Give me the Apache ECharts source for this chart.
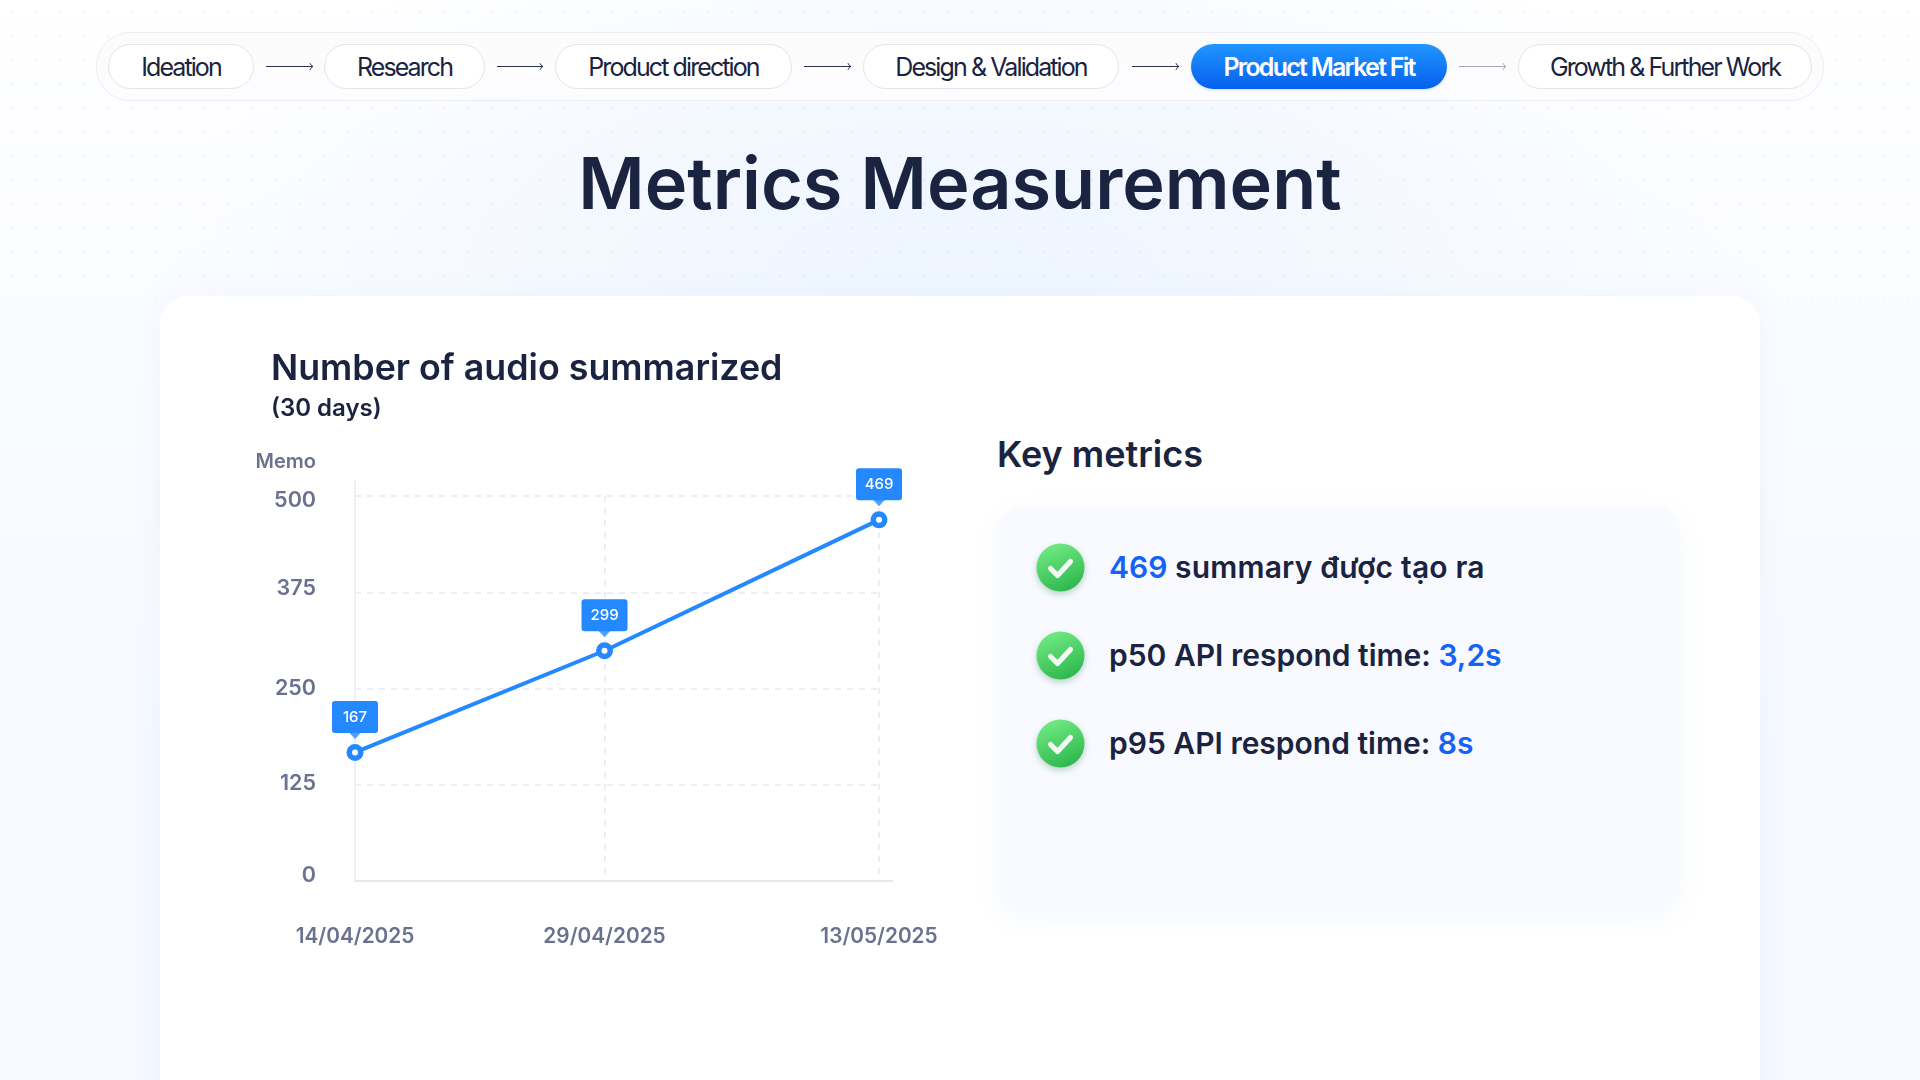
<!DOCTYPE html>
<html><head><meta charset="utf-8">
<script src="https://cdn.jsdelivr.net/npm/echarts@6/dist/echarts.min.js"></script>
<style>
html,body{margin:0;padding:0;width:1920px;height:1080px;overflow:hidden;font-family:Inter,sans-serif;color:#1a2340}
#bg{position:absolute;inset:0;background:radial-gradient(ellipse 820px 420px at 960px 300px,#edf5ff 0%,#f5f9ff 55%,rgba(255,255,255,0) 100%),linear-gradient(180deg,#ffffff 0%,#fbfcff 25%,#f6f9ff 70%,#f6f9ff 100%)}
#dots{position:absolute;left:0;top:0;width:1920px;height:300px;background-image:radial-gradient(circle,rgba(190,205,235,.24) 1.2px,transparent 1.6px);background-size:24px 24px}
#bar{position:absolute;left:96px;top:32px;width:1728px;height:69px;border:1px solid #eceef3;border-radius:34px;box-sizing:border-box;background:linear-gradient(#fbfbfc,#fdfdff)}
.pill{position:absolute;top:44px;height:45px;box-sizing:border-box;border:1px solid #e4e6ea;border-radius:23px;background:#fff;display:flex;align-items:center;justify-content:center;font-size:25px;letter-spacing:-1.9px;color:#1a2340;white-space:nowrap}
.pill.on{border:0;background:linear-gradient(#2196ff,#0560ee);color:#fff;font-weight:600;box-shadow:0 1px 3px rgba(0,90,230,.2);letter-spacing:-1.75px}
.arr{position:absolute;top:61px;height:11px}
h1{position:absolute;left:0;width:1920px;top:136px;margin:0;text-align:center;font-size:72px;font-weight:600;line-height:94px;letter-spacing:0;color:#1a2340}
#card{position:absolute;left:160px;top:296px;width:1600px;height:900px;background:#fff;border-radius:28px;box-shadow:0 4px 30px rgba(120,150,210,.08)}
#km{position:absolute;left:997px;top:430px;font-size:36px;font-weight:600;line-height:48px;color:#1a2340}
#panel{position:absolute;left:997px;top:507px;width:683px;height:405px;border-radius:26px;background:#f8faff;box-shadow:0 6px 24px rgba(120,150,210,.07)}
.row{position:absolute;left:1109px;height:48px;line-height:48px;font-size:30px;font-weight:600;color:#1a2340;white-space:nowrap}
.row b{font-weight:600;color:#1463f5}
.row i{font-style:normal;letter-spacing:.18px}
.ok{position:absolute;left:1036px;width:49px;height:49px}
#c{position:absolute;left:0;top:0;width:1920px;height:1080px}
</style></head><body>
<div id="bg"></div><div id="dots"></div>
<div id="bar"></div>
<div id="steps"></div>
<h1>Metrics Measurement</h1>
<div id="card"></div>
<div id="km">Key metrics</div>
<div id="panel"></div>
<div id="rows"></div>
<div id="c"></div>
<script>
// ---- chart data ----
var dateLabels = ['14/04/2025', '29/04/2025', '13/05/2025'];
var datePositions = [0, 10, 21];
var memoValues = [167, 299, 469];
var yTicks = [0, 125, 250, 375, 500];
// ---- page text ----
var stepNames = ['Ideation','Research','Product direction','Design & Validation','Product Market Fit','Growth & Further Work'];
var activeStep = 4;
var metricRows = [
  '<b>469</b><i> summary được tạo ra</i>',
  'p50 API respond time: <b>3,2s</b>',
  'p95 API respond time: <b>8s</b>'
];
// ---- page layout ----
var pillX = [[108,254],[324,485],[555,792],[863,1119],[1191,1447],[1518,1812]];
var arrowX = [[266,314],[497,544],[804,852],[1132,1180],[1459,1507]];
var rowY = [567,655,743];

var steps = document.getElementById('steps'), html = '';
stepNames.forEach(function(n,i){
  html += '<div class="pill'+(i===activeStep?' on':'')+'" style="left:'+pillX[i][0]+'px;width:'+(pillX[i][1]-pillX[i][0])+'px">'+n.replace('&','&amp;')+'</div>';
});
arrowX.forEach(function(a,i){
  var w=a[1]-a[0], col=i===4?'#a4a9b4':'#2b3350';
  html += '<svg class="arr" style="left:'+a[0]+'px;width:'+w+'px" viewBox="0 0 '+w+' 11"><path d="M0 5.5H'+(w-1)+'M'+(w-4)+' 2.2Q'+(w-3)+' 4.8 '+(w-1)+' 5.5Q'+(w-3)+' 6.2 '+(w-4)+' 8.8" fill="none" stroke="'+col+'" stroke-width="1"/></svg>';
});
steps.innerHTML = html;

var rows = document.getElementById('rows'); html='';
metricRows.forEach(function(t,i){
  html += '<svg class="ok" style="top:'+(rowY[i]-24)+'px" viewBox="0 0 49 49" overflow="visible"><defs><linearGradient id="g'+i+'" x1="0.3" y1="0" x2="0.7" y2="1"><stop offset="0" stop-color="#72ea82"/><stop offset="1" stop-color="#2cb64d"/></linearGradient><filter id="s'+i+'" x="-30%" y="-30%" width="160%" height="170%"><feDropShadow dx="0" dy="3" stdDeviation="3" flood-color="#1c6a34" flood-opacity=".28"/></filter></defs><circle cx="24.5" cy="24.5" r="24" fill="url(#g'+i+')" filter="url(#s'+i+')"/><path d="M14.5 25.5l7 7 13-14" fill="none" stroke="#f4f8f4" stroke-width="5.2" stroke-linecap="round" stroke-linejoin="round"/></svg>';
  html += '<div class="row" style="top:'+(rowY[i]-24)+'px">'+t+'</div>';
});
rows.innerHTML = html;

var BLUE = '#2488ff', AXIS = '#6a7290', GRID = '#e6e8f3';
var chart = echarts.init(document.getElementById('c'), null, {renderer:'canvas'});
var pts = datePositions.map(function(x,i){ return [x, memoValues[i]]; });
// tick label styles: the reference's tick labels sit slightly off their gridlines
var yFont = {fontFamily:'Inter',fontSize:21.5,fontWeight:600,color:AXIS};
function nudge(pad){ return Object.assign({padding:pad},yFont); }
chart.setOption({
  animation:false,
  backgroundColor:'transparent',
  textStyle:{fontFamily:'Inter'},
  title:{
    text:'Number of audio summarized',
    subtext:'(30 days)',
    left:266, top:342, itemGap:3,
    textStyle:{fontFamily:'Inter',fontSize:35.8,fontWeight:600,color:'#1a2340',lineHeight:44},
    subtextStyle:{fontFamily:'Inter',fontSize:24,fontWeight:600,color:'#1a2340',lineHeight:30}
  },
  grid:{left:355,right:1041,top:496,bottom:199,containLabel:false},
  xAxis:{
    type:'value',min:0,max:21,
    axisLine:{show:true,lineStyle:{color:'#e6e8f0',width:2}},
    axisTick:{show:false,customValues:datePositions},
    splitLine:{show:true,lineStyle:{color:GRID,type:[6,6],width:1.5}},
    axisLabel:{customValues:datePositions,margin:45,fontFamily:'Inter',fontSize:20.8,fontWeight:600,color:AXIS,hideOverlap:false,alignMinLabel:'center',alignMaxLabel:'center',
      formatter:function(v){return dateLabels[datePositions.indexOf(v)];}}
  },
  yAxis:{
    type:'value',min:0,max:500,interval:125,
    name:'Memo',nameLocation:'end',nameGap:24,
    nameTextStyle:{fontFamily:'Inter',fontSize:20,fontWeight:600,color:AXIS,align:'right',padding:[0,39,0,0]},
    axisLine:{show:true,lineStyle:{color:'#eef0f6',width:2}},
    axisTick:{show:false},
    splitLine:{show:true,lineStyle:{color:GRID,type:[6,6],width:1.5}},
    axisLabel:{margin:39,
      fontFamily:'Inter',fontSize:21.5,fontWeight:600,color:AXIS,
      formatter:function(v){ return '{t'+v+'|'+v+'}'; },
      rich:{t0:nudge([0,0,10,0]),t125:nudge([0,0,2,0]),t250:nudge([0,0,0,0]),t375:nudge([0,0,7,0]),t500:nudge([10,0,0,0])}}
  },
  series:[
    {type:'line',data:pts,smooth:false,symbol:'circle',symbolSize:11.5,z:3,
     lineStyle:{color:BLUE,width:4},
     itemStyle:{color:'#fff',borderColor:BLUE,borderWidth:5.5},
     label:{show:true,position:'top',distance:11,
       formatter:function(p){return p.value[1];},
       fontFamily:'Inter',fontSize:15,fontWeight:500,color:'#fff',
       backgroundColor:BLUE,borderRadius:3,padding:[9,10,8,10],width:26,align:'center'}
    },
    {type:'scatter',data:pts,symbol:'triangle',symbolRotate:180,symbolSize:[13,7],symbolOffset:[0,-17],silent:true,z:4,
     itemStyle:{color:BLUE}}
  ],
  graphic:[
    {type:'line',shape:{x1:355,y1:480,x2:355,y2:496},style:{stroke:'#eef0f6',lineWidth:2},silent:true},
    {type:'line',shape:{x1:879,y1:881,x2:893,y2:881},style:{stroke:'#e6e8f0',lineWidth:2},silent:true}
  ]
});
</script>
</body></html>
